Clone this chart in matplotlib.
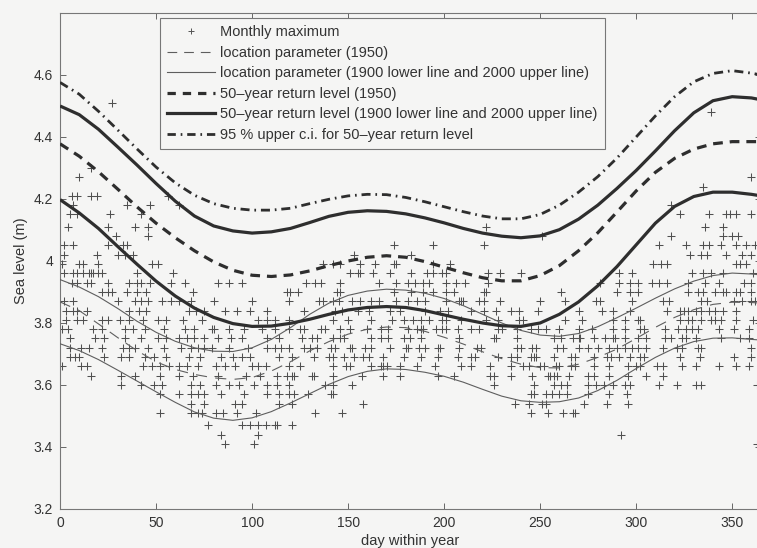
import matplotlib
matplotlib.use("Agg")
import matplotlib.pyplot as plt
from matplotlib.lines import Line2D

plt.rcParams["font.family"] = ["Liberation Sans", "DejaVu Sans"]
plt.rcParams["lines.scale_dashes"] = False

# Monthly maximum sea levels (m), grouped by recorded level: (level, days within year)
monthly_max_rows = [
    (4.51, [27]),
    (4.48, [339]),
    (4.30, [16]),
    (4.27, [10, 360]),
    (4.24, [335]),
    (4.21, [6, 9, 16, 19, 56]),
    (4.18, [7, 35, 47, 62, 318]),
    (4.15, [5, 9, 26, 42, 323, 338, 347, 349, 352, 360]),
    (4.11, [4, 25, 39, 46, 222, 336, 345]),
    (4.08, [29, 46, 251, 318, 345, 350, 353]),
    (4.05, [2, 7, 25, 33, 35, 174, 194, 221, 312, 326, 335, 338, 344, 352, 357, 362]),
    (4.02, [2, 19, 30, 34, 38, 153, 183, 328, 334, 337, 347, 355, 360]),
    (3.99, [1, 10, 12, 20, 48, 51, 137, 142, 146, 156, 164, 174, 175, 194, 203,
            309, 313, 316, 352, 354, 357]),
    (3.96, [2, 7, 9, 12, 15, 16, 17, 20, 22, 40, 59, 151, 155, 156, 163, 172, 183,
            191, 194, 199, 201, 223, 229, 240, 291, 298, 329, 335, 339, 345, 361]),
    (3.93, [6, 9, 14, 16, 25, 36, 40, 42, 47, 58, 65, 82, 88, 95, 128, 133, 136,
            146, 166, 175, 181, 185, 189, 192, 201, 206, 211, 223, 281, 291, 297,
            301, 308, 312, 316, 327, 336, 343, 356, 360]),
    (3.90, [22, 25, 27, 35, 40, 45, 69, 118, 120, 124, 144, 146, 174, 183, 189,
            194, 201, 205, 221, 222, 261, 290, 297, 301, 327, 332, 335, 341, 345,
            347, 352, 354, 360]),
    (3.87, [2, 7, 30, 39, 42, 46, 53, 58, 62, 68, 80, 100, 119, 135, 137, 142, 145,
            152, 156, 162, 166, 175, 181, 186, 190, 201, 208, 209, 210, 218, 221,
            229, 250, 263, 279, 281, 298, 314, 317, 334, 337, 351, 355, 360, 362]),
    (3.84, [3, 7, 9, 14, 36, 41, 45, 67, 71, 75, 86, 92, 99, 108, 127, 143, 147,
            155, 161, 172, 177, 190, 198, 202, 214, 221, 227, 235, 239, 249, 270,
            282, 288, 297, 316, 323, 325, 327, 331, 334, 338, 341, 345, 352]),
    (3.81, [3, 9, 12, 22, 25, 31, 36, 43, 51, 55, 64, 74, 103, 108, 112, 119, 142,
            150, 162, 173, 179, 184, 188, 192, 199, 201, 209, 222, 228, 239, 241,
            263, 272, 288, 294, 301, 302, 323, 327, 329, 334, 339, 341, 344, 352,
            361]),
    (3.78, [1, 4, 17, 22, 34, 38, 44, 54, 65, 70, 79, 80, 88, 96, 105, 112, 119,
            125, 127, 136, 138, 146, 151, 160, 167, 171, 181, 186, 188, 189, 196,
            199, 201, 207, 214, 218, 228, 230, 238, 245, 249, 253, 260, 270, 277,
            288, 294, 302, 304, 315, 322, 326, 329, 332, 343, 351, 359]),
    (3.75, [5, 18, 23, 34, 42, 51, 55, 62, 66, 70, 75, 82, 89, 95, 108, 114, 126,
            131, 134, 142, 146, 148, 162, 167, 171, 179, 182, 188, 208, 226, 227,
            238, 257, 261, 267, 270, 271, 278, 284, 288, 289, 294, 301, 305, 315,
            318, 324, 326, 331, 344, 354, 359]),
    (3.72, [5, 11, 15, 22, 33, 36, 39, 46, 54, 63, 68, 72, 75, 79, 88, 98, 108,
            112, 115, 119, 127, 130, 134, 141, 143, 151, 152, 159, 162, 172, 180,
            181, 187, 190, 197, 198, 208, 217, 219, 238, 240, 246, 248, 259, 262,
            270, 275, 280, 286, 290, 294, 298, 301, 305, 314, 321, 324, 332, 334,
            360]),
    (3.69, [5, 8, 10, 23, 32, 36, 44, 49, 55, 67, 73, 84, 90, 95, 99, 114, 121,
            132, 140, 142, 148, 153, 158, 161, 168, 179, 188, 197, 207, 214, 216,
            228, 235, 238, 245, 247, 248, 257, 266, 268, 278, 285, 287, 291, 297,
            302, 304, 323, 333, 351, 360]),
    (3.66, [1, 11, 14, 43, 48, 52, 57, 62, 66, 72, 81, 86, 91, 100, 103, 107, 119,
            125, 142, 149, 151, 162, 167, 168, 170, 177, 186, 195, 209, 214, 224,
            235, 241, 244, 250, 252, 258, 260, 266, 268, 278, 286, 296, 300, 302,
            311, 314, 324, 331, 343, 352, 359]),
    (3.63, [16, 32, 39, 52, 62, 69, 82, 97, 104, 113, 118, 121, 122, 131, 132, 142,
            157, 168, 177, 197, 205, 224, 226, 235, 246, 254, 255, 257, 259, 265,
            275, 278, 286, 296, 305, 314]),
    (3.60, [32, 42, 49, 53, 68, 73, 81, 88, 93, 101, 108, 113, 119, 138, 142, 152,
            226, 247, 257, 261, 264, 275, 279, 283, 288, 294, 297, 312, 321, 331,
            334, 363]),
    (3.57, [52, 62, 68, 72, 75, 84, 96, 108, 114, 119, 122, 129, 141, 142, 245,
            247, 253, 256, 260, 264, 275, 286, 295]),
    (3.54, [68, 75, 91, 95, 114, 121, 158, 237, 244, 251, 253, 273, 285, 296]),
    (3.51, [52, 68, 72, 74, 81, 85, 92, 102, 133, 147, 245, 254, 262, 267, 268]),
    (3.47, [77, 95, 99, 103, 107, 112, 113, 121]),
    (3.44, [84, 103, 292]),
    (3.41, [86, 101, 363]),
]

# Fitted curves, read every 10 days
curve_days = [0, 10, 20, 30, 40, 50, 60, 70, 80, 90, 100, 110, 120, 130, 140, 150,
              160, 170, 180, 190, 200, 210, 220, 230, 240, 250, 260, 270, 280, 290,
              300, 310, 320, 330, 340, 350, 360, 365]

loc_1950 = [3.868, 3.840, 3.797, 3.753, 3.711, 3.675, 3.650, 3.634, 3.623, 3.618,
            3.624, 3.645, 3.675, 3.710, 3.740, 3.764, 3.780, 3.787, 3.785, 3.773,
            3.754, 3.732, 3.707, 3.685, 3.667, 3.656, 3.655, 3.667, 3.689, 3.716,
            3.750, 3.786, 3.818, 3.843, 3.860, 3.867, 3.866, 3.864]
loc_1900 = [3.733, 3.711, 3.682, 3.648, 3.613, 3.578, 3.544, 3.513, 3.493, 3.486,
            3.494, 3.514, 3.542, 3.572, 3.602, 3.627, 3.644, 3.652, 3.650, 3.641,
            3.628, 3.609, 3.586, 3.564, 3.549, 3.544, 3.546, 3.558, 3.582, 3.615,
            3.653, 3.689, 3.719, 3.740, 3.751, 3.752, 3.747, 3.745]
loc_2000 = [3.940, 3.916, 3.885, 3.847, 3.806, 3.770, 3.741, 3.720, 3.709, 3.708,
            3.720, 3.747, 3.785, 3.828, 3.864, 3.889, 3.903, 3.909, 3.906, 3.896,
            3.879, 3.856, 3.828, 3.800, 3.776, 3.761, 3.757, 3.766, 3.788, 3.817,
            3.848, 3.880, 3.910, 3.935, 3.953, 3.961, 3.958, 3.955]
rl50_1950 = [4.378, 4.338, 4.288, 4.232, 4.175, 4.122, 4.075, 4.033, 3.997, 3.970,
             3.954, 3.950, 3.955, 3.968, 3.985, 4.000, 4.012, 4.017, 4.012, 3.998,
             3.980, 3.962, 3.946, 3.936, 3.936, 3.953, 3.985, 4.033, 4.091, 4.158,
             4.226, 4.286, 4.331, 4.361, 4.378, 4.385, 4.385, 4.385]
rl50_1900 = [4.198, 4.155, 4.105, 4.047, 3.990, 3.935, 3.887, 3.848, 3.818, 3.798,
             3.789, 3.790, 3.799, 3.812, 3.828, 3.842, 3.850, 3.853, 3.850, 3.840,
             3.826, 3.812, 3.800, 3.791, 3.789, 3.800, 3.828, 3.868, 3.920, 3.982,
             4.052, 4.122, 4.176, 4.208, 4.222, 4.222, 4.215, 4.210]
rl50_2000 = [4.500, 4.472, 4.425, 4.368, 4.310, 4.250, 4.193, 4.145, 4.113, 4.097,
             4.090, 4.094, 4.105, 4.124, 4.144, 4.157, 4.162, 4.160, 4.152, 4.139,
             4.123, 4.105, 4.090, 4.080, 4.075, 4.081, 4.101, 4.135, 4.180, 4.234,
             4.292, 4.355, 4.420, 4.478, 4.517, 4.530, 4.526, 4.520]
ci95_upper = [4.576, 4.538, 4.483, 4.423, 4.362, 4.303, 4.252, 4.212, 4.185, 4.170,
              4.164, 4.164, 4.170, 4.185, 4.199, 4.210, 4.215, 4.214, 4.205, 4.191,
              4.175, 4.159, 4.145, 4.136, 4.136, 4.150, 4.180, 4.222, 4.272, 4.332,
              4.400, 4.468, 4.530, 4.578, 4.605, 4.614, 4.606, 4.600]

x_ticks = [0, 50, 100, 150, 200, 250, 300, 350]
y_ticks = [3.2, 3.4, 3.6, 3.8, 4.0, 4.2, 4.4, 4.6]
y_tick_labels = ["3.2", "3.4", "3.6", "3.8", "4", "4.2", "4.4", "4.6"]

legend_labels = [
    "Monthly maximum",
    "location parameter (1950)",
    "location parameter (1900 lower line and 2000 upper line)",
    "50\u2013year return level (1950)",
    "50\u2013year return level (1900 lower line and 2000 upper line)",
    "95 % upper c.i. for 50\u2013year return level",
]

bg = "#f5f5f4"
ink = "#2e2e2e"
thin = "#5e5e5e"

fig = plt.figure(figsize=(7.57, 5.48), dpi=100, facecolor=bg)
ax = fig.add_axes([0.0793, 0.0712, 0.926, 0.9051], facecolor=bg)

pt_days = [d for _, days in monthly_max_rows for d in days]
pt_levels = [lv for lv, days in monthly_max_rows for _ in days]
ax.plot(pt_days, pt_levels, linestyle="none", marker="+", markersize=5.4,
        markeredgewidth=0.75, color="#505050", zorder=2)

thin_kw = dict(color=thin, linewidth=0.8, zorder=3)
thick_kw = dict(color=ink, linewidth=2.3, zorder=4)

ax.plot(curve_days, loc_1900, **thin_kw)
ax.plot(curve_days, loc_2000, **thin_kw)
ax.plot(curve_days, loc_1950, dashes=(8, 6), **thin_kw)
ax.plot(curve_days, rl50_1900, solid_capstyle="butt", **thick_kw)
ax.plot(curve_days, rl50_2000, solid_capstyle="butt", **thick_kw)
ax.plot(curve_days, rl50_1950, dashes=(7, 5), dash_capstyle="butt", **thick_kw)
ax.plot(curve_days, ci95_upper, dashes=(6.5, 3.5, 1.2, 3.5), dash_capstyle="butt",
        color=ink, linewidth=2.0, zorder=4)

ax.set_xlim(0, 365)
ax.set_ylim(3.2, 4.8)
ax.set_xticks(x_ticks)
ax.set_yticks(y_ticks)
ax.set_yticklabels(y_tick_labels)
ax.tick_params(direction="in", length=4, width=0.7, colors="#666666",
               labelcolor="#333333", labelsize=10, top=True, right=True, pad=5)
for s in ax.spines.values():
    s.set_color("#777777")
    s.set_linewidth(0.8)

ax.set_xlabel("day within year", fontsize=10.5, color="#333333", labelpad=3)
ax.set_ylabel("Sea level (m)", fontsize=10.5, color="#333333", labelpad=4)

handles = [
    Line2D([], [], linestyle="none", marker="+", markersize=5, markeredgewidth=0.7,
           color="#555555"),
    Line2D([], [], dashes=(7, 5), color=thin, linewidth=0.8),
    Line2D([], [], color=thin, linewidth=0.8),
    Line2D([], [], dashes=(6, 5), color=ink, linewidth=2.3),
    Line2D([], [], color=ink, linewidth=2.3),
    Line2D([], [], dashes=(6, 3.5, 1.2, 3.5), color=ink, linewidth=2.0),
]
leg = ax.legend(handles, legend_labels, loc="upper left",
                bbox_to_anchor=(0.1427, 0.99), fontsize=10.5, frameon=True,
                fancybox=False, framealpha=1, facecolor=bg, edgecolor="#777777",
                handlelength=3.3, handletextpad=0.3, labelspacing=0.45,
                borderpad=0.5, borderaxespad=0.0)
leg.get_frame().set_linewidth(0.8)
for t in leg.get_texts():
    t.set_color("#333333")

fig.savefig("out.png", dpi=100, facecolor=bg)
